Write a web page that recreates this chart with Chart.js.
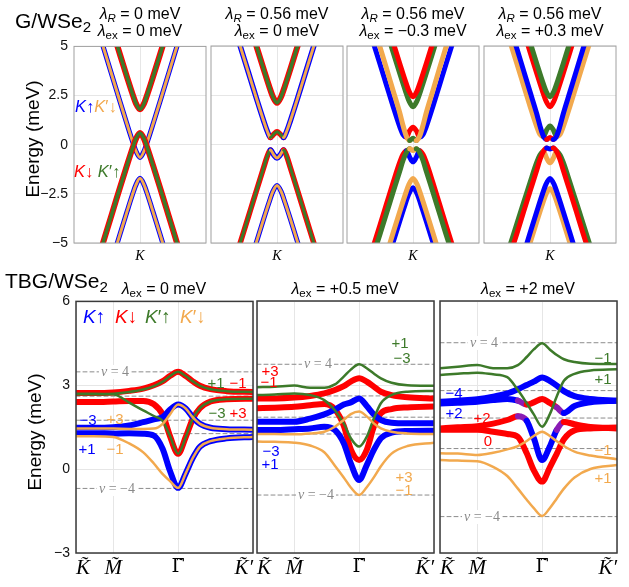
<!DOCTYPE html>
<html>
<head>
<script src="https://cdn.jsdelivr.net/npm/chart.js"></script>
<style>
  body { margin: 0; background: #fff; }
  #fig { position: relative; width: 629px; height: 587px; overflow: hidden; font-family: "Liberation Sans", Arial, sans-serif; color: #000; }
  #plots, #labels { position: absolute; left: 0; top: 0; width: 629px; height: 587px; }
  #plots { z-index: 1; }
  #labels { z-index: 2; }
  #plots canvas { position: absolute; }
  .t { position: absolute; transform: translate(-50%, -50%); white-space: nowrap; line-height: 1; }
  .l { position: absolute; transform: translateY(-50%); white-space: nowrap; line-height: 1; }
  .r { position: absolute; transform: translate(-50%, -50%) rotate(-90deg); white-space: nowrap; line-height: 1; font-size: 19px; }
  sub { font-size: 0.72em; vertical-align: -0.28em; line-height: 0; }
  .nu { position: absolute; transform: translate(-50%, -50%); font-family: "Liberation Serif", serif; font-size: 14px; color: #8a8a8a; background: #fff; padding: 0 2px; line-height: 1; white-space: nowrap; }
  .c { position: absolute; transform: translate(-50%, -50%); font-size: 15px; line-height: 1; white-space: nowrap; }
  .b { color: #0000ff; } .rd { color: #ff0000; } .g { color: #3d7a2a; } .o { color: #f2a94e; }
</style>
</head>
<body>
<div id="fig">
  <div id="plots"></div>
  <div id="labels">
    <div class="l" style="left:15px;top:20px;font-size:21px">G/WSe<sub>2</sub></div>
    <div class="t" style="left:140px;top:14px;font-size:16px"><i>λ</i><sub><i>R</i></sub> = 0 meV</div>
    <div class="t" style="left:140px;top:31px;font-size:16px"><i>λ</i><sub>ex</sub> = 0 meV</div>
    <div class="t" style="left:277px;top:14px;font-size:16px"><i>λ</i><sub><i>R</i></sub> = 0.56 meV</div>
    <div class="t" style="left:277px;top:31px;font-size:16px"><i>λ</i><sub>ex</sub> = 0 meV</div>
    <div class="t" style="left:413px;top:14px;font-size:16px"><i>λ</i><sub><i>R</i></sub> = 0.56 meV</div>
    <div class="t" style="left:413px;top:31px;font-size:16px"><i>λ</i><sub>ex</sub> = −0.3 meV</div>
    <div class="t" style="left:550px;top:14px;font-size:16px"><i>λ</i><sub><i>R</i></sub> = 0.56 meV</div>
    <div class="t" style="left:550px;top:31px;font-size:16px"><i>λ</i><sub>ex</sub> = +0.3 meV</div>
    <div class="r" style="left:32px;top:139px">Energy (meV)</div>
    <div class="l" style="left:75px;top:106px;font-size:16.5px"><span class="b"><i>K</i>↑</span><span class="o"><i>K</i>′↓</span></div>
    <div class="l" style="left:74px;top:171px;font-size:16.5px"><span class="rd"><i>K</i>↓</span> <span class="g"><i>K</i>′↑</span></div>

    <div class="l" style="left:5px;top:280px;font-size:21px">TBG/WSe<sub>2</sub></div>
    <div class="t" style="left:164px;top:289px;font-size:16px"><i>λ</i><sub>ex</sub> = 0 meV</div>
    <div class="t" style="left:345px;top:289px;font-size:16px"><i>λ</i><sub>ex</sub> = +0.5 meV</div>
    <div class="t" style="left:528px;top:289px;font-size:16px"><i>λ</i><sub>ex</sub> = +2 meV</div>
    <div class="r" style="left:34px;top:432px">Energy (meV)</div>
    <div class="l b" style="left:83px;top:316px;font-size:19px"><i>K</i>↑</div>
    <div class="l rd" style="left:115px;top:316px;font-size:19px"><i>K</i>↓</div>
    <div class="l g" style="left:145px;top:316px;font-size:19px"><i>K</i>′↑</div>
    <div class="l o" style="left:180px;top:316px;font-size:19px"><i>K</i>′↓</div>

    <div class="c b" style="left:88px;top:419px">−3</div>
    <div class="c o" style="left:115px;top:418px">+3</div>
    <div class="c b" style="left:87px;top:448px">+1</div>
    <div class="c o" style="left:115px;top:448px">−1</div>
    <div class="c g" style="left:216px;top:382px">+1</div>
    <div class="c rd" style="left:238px;top:382px">−1</div>
    <div class="c g" style="left:217px;top:412px">−3</div>
    <div class="c rd" style="left:238px;top:412px">+3</div>

    <div class="c rd" style="left:270px;top:370px">+3</div>
    <div class="c rd" style="left:269px;top:381px">−1</div>
    <div class="c g" style="left:400px;top:342px">+1</div>
    <div class="c g" style="left:402px;top:357px">−3</div>
    <div class="c b" style="left:271px;top:450px">−3</div>
    <div class="c b" style="left:270px;top:463px">+1</div>
    <div class="c o" style="left:404px;top:476px">+3</div>
    <div class="c o" style="left:404px;top:489px">−1</div>

    <div class="c g" style="left:603px;top:357px">−1</div>
    <div class="c g" style="left:603px;top:378px">+1</div>
    <div class="c b" style="left:454px;top:392px">−4</div>
    <div class="c b" style="left:454px;top:412px">+2</div>
    <div class="c rd" style="left:482px;top:417px">+2</div>
    <div class="c rd" style="left:488px;top:440px">0</div>
    <div class="c o" style="left:603px;top:449px">−1</div>
    <div class="c o" style="left:603px;top:477px">+1</div>

    <div class="nu" style="left:115px;top:372px"><i>ν</i> = 4</div>
    <div class="nu" style="left:117px;top:489px"><i>ν</i> = −4</div>
    <div class="nu" style="left:318px;top:364px"><i>ν</i> = 4</div>
    <div class="nu" style="left:316px;top:495px"><i>ν</i> = −4</div>
    <div class="nu" style="left:484px;top:343px"><i>ν</i> = 4</div>
    <div class="nu" style="left:482px;top:517px"><i>ν</i> = −4</div>
  </div>
</div>
<script>
  const BLUE = "#0000ff", RED = "#ff0000", GREEN = "#3d7a2a", ORANGE = "#f2a94e", PURPLE = "#8a1cb4";

  // ---------- top row: G/WSe2, momentum measured from K ----------
  const kTop = [-0.6, -0.5, -0.4, -0.3, -0.2, -0.12, -0.06, 0, 0.06, 0.12, 0.2, 0.3, 0.4, 0.5, 0.6];
  const kFine = [-0.6, -0.5, -0.4, -0.3, -0.2, -0.15, -0.1, -0.05, 0, 0.05, 0.1, 0.15, 0.2, 0.3, 0.4, 0.5, 0.6];
  const topYTicks = [-5, -2.5, 0, 2.5, 5];
  const topXTicks = [0];
  const topXLabels = ["K"];

  // lambda_R = 0, lambda_ex = 0
  const g1BlueOrangeUp = [5.44, 4.35, 3.25, 2.16, 1.08, 0.24, -0.33, -0.65, -0.33, 0.24, 1.08, 2.16, 3.25, 4.35, 5.44];
  const g1BlueOrangeDn = [-7.8, -6.71, -5.61, -4.52, -3.44, -2.6, -2.03, -1.71, -2.03, -2.6, -3.44, -4.52, -5.61, -6.71, -7.8];
  const g1RedGreenUp = [7.83, 6.73, 5.64, 4.55, 3.48, 2.65, 2.09, 1.8, 2.09, 2.65, 3.48, 4.55, 5.64, 6.73, 7.83];
  const g1RedGreenDn = [-5.43, -4.33, -3.24, -2.15, -1.08, -0.25, 0.31, 0.6, 0.31, -0.25, -1.08, -2.15, -3.24, -4.33, -5.43];

  // lambda_R = 0.56, lambda_ex = 0
  const g2RedGreenUp = [8.15, 7.05, 5.96, 4.87, 3.8, 2.97, 2.41, 2.12, 2.41, 2.97, 3.8, 4.87, 5.96, 7.05, 8.15];
  const g2BlueOrangeDn = [-8.11, -7.01, -5.92, -4.83, -3.76, -2.93, -2.37, -2.08, -2.37, -2.93, -3.76, -4.83, -5.92, -7.01, -8.11];
  const g2MidUp = [5.45, 4.38, 3.3, 2.22, 1.18, 0.7, 0.36, 0.52, 0.65, 0.52, 0.36, 0.7, 1.18, 2.22, 3.3, 4.38, 5.45];
  const g2MidDn = [-5.45, -4.38, -3.3, -2.22, -1.15, -0.62, -0.28, -0.52, -0.69, -0.52, -0.28, -0.62, -1.15, -2.22, -3.3, -4.38, -5.45];

  // lambda_R = 0.56, lambda_ex = -0.3
  const g3RedUp = [8.45, 7.35, 6.26, 5.17, 4.1, 3.27, 2.71, 2.42, 2.71, 3.27, 4.1, 5.17, 6.26, 7.35, 8.45];
  const g3GreenUp = [7.95, 6.85, 5.76, 4.67, 3.6, 2.77, 2.21, 1.92, 2.21, 2.77, 3.6, 4.67, 5.76, 6.85, 7.95];
  const g3KMidUp = [5.15, 4.08, 3.0, 1.92, 0.9, 0.5, 0.38, 0.7, 0.88, 0.7, 0.38, 0.5, 0.9, 1.92, 3.0, 4.08, 5.15];
  const g3KpMidUp = [6.0, 4.95, 3.85, 2.72, 1.6, 0.95, 0.42, 0.2, 0.32, 0.2, 0.42, 0.95, 1.6, 2.72, 3.85, 4.95, 6.0];
  const g3KMidDn = [-5.15, -4.08, -3.0, -1.92, -0.9, -0.5, -0.32, -0.65, -0.88, -0.65, -0.32, -0.5, -0.9, -1.92, -3.0, -4.08, -5.15];
  const g3KpMidDn = [-5.6, -4.55, -3.48, -2.4, -1.35, -0.8, -0.4, -0.22, -0.3, -0.22, -0.4, -0.8, -1.35, -2.4, -3.48, -4.55, -5.6];
  const g3OrangeDn = [-7.75, -6.65, -5.56, -4.47, -3.4, -2.57, -2.01, -1.72, -2.01, -2.57, -3.4, -4.47, -5.56, -6.65, -7.75];
  const g3BlueDn = [-8.23, -7.13, -6.04, -4.95, -3.88, -3.05, -2.49, -2.2, -2.49, -3.05, -3.88, -4.95, -6.04, -7.13, -8.23];

  // lambda_R = 0.56, lambda_ex = +0.3
  const g4GreenUp = [8.45, 7.35, 6.26, 5.17, 4.1, 3.27, 2.71, 2.42, 2.71, 3.27, 4.1, 5.17, 6.26, 7.35, 8.45];
  const g4RedUp = [7.95, 6.85, 5.76, 4.67, 3.6, 2.77, 2.21, 1.92, 2.21, 2.77, 3.6, 4.67, 5.76, 6.85, 7.95];
  const g4KpMidUp = [5.15, 4.08, 3.0, 1.92, 0.9, 0.5, 0.4, 0.74, 0.94, 0.74, 0.4, 0.5, 0.9, 1.92, 3.0, 4.08, 5.15];
  const g4KMidUp = [5.9, 4.85, 3.75, 2.65, 1.55, 0.92, 0.42, 0.26, 0.36, 0.26, 0.42, 0.92, 1.55, 2.65, 3.75, 4.85, 5.9];
  const g4KpMidDn = [-5.05, -4.0, -2.95, -1.9, -0.9, -0.52, -0.34, -0.7, -0.93, -0.7, -0.34, -0.52, -0.9, -1.9, -2.95, -4.0, -5.05];
  const g4KMidDn = [-5.55, -4.5, -3.42, -2.35, -1.3, -0.75, -0.35, -0.18, -0.23, -0.18, -0.35, -0.75, -1.3, -2.35, -3.42, -4.5, -5.55];
  const g4BlueDn = [-7.75, -6.65, -5.56, -4.47, -3.4, -2.57, -2.01, -1.72, -2.01, -2.57, -3.4, -4.47, -5.56, -6.65, -7.75];
  const g4OrangeDn = [-8.26, -7.16, -6.07, -4.98, -3.91, -3.08, -2.52, -2.23, -2.52, -3.08, -3.91, -4.98, -6.07, -7.16, -8.26];

  // ---------- bottom row: TBG/WSe2 along K~ - M~ - Gamma~ - K~' ----------
  const xPath = [0, 0.1, 0.211, 0.3, 0.38, 0.44, 0.49, 0.53, 0.577, 0.62, 0.66, 0.7, 0.76, 0.85, 1];
  const pathTicks = [0, 0.211, 0.577, 1];
  const pathLabels = ["K\u0303", "M\u0303", "\u0393\u0303", "K\u0303\u2032"];
  const botYTicks = [-3, 0, 3, 6];

  // lambda_ex = 0
  const t1RedUp = [2.72, 2.72, 2.74, 2.8, 2.88, 3.0, 3.15, 3.33, 3.48, 3.33, 3.14, 2.98, 2.86, 2.79, 2.76];
  const t1GreenUp = [2.68, 2.68, 2.7, 2.76, 2.85, 2.97, 3.13, 3.32, 3.48, 3.33, 3.14, 2.98, 2.86, 2.79, 2.76];
  const t1RedDn = [2.4, 2.4, 2.42, 2.44, 2.44, 2.32, 1.95, 1.2, 0.55, 1.15, 1.8, 2.18, 2.42, 2.5, 2.52];
  const t1GreenDn = [2.7, 2.7, 2.68, 2.38, 2.1, 1.9, 1.72, 1.2, 0.55, 1.15, 1.8, 2.18, 2.42, 2.5, 2.52];
  const t1BlueUp = [1.48, 1.48, 1.5, 1.56, 1.68, 1.78, 1.86, 2.12, 2.31, 2.17, 1.85, 1.62, 1.48, 1.43, 1.41];
  const t1OrangeUp = [1.45, 1.45, 1.45, 1.44, 1.44, 1.45, 1.62, 1.95, 2.31, 2.17, 1.85, 1.62, 1.48, 1.43, 1.41];
  const t1BlueDn = [1.26, 1.26, 1.27, 1.28, 1.27, 1.2, 0.72, -0.05, -0.67, -0.15, 0.4, 0.8, 1.0, 1.1, 1.15];
  const t1OrangeDn = [1.18, 1.18, 1.15, 0.92, 0.6, 0.2, -0.18, -0.42, -0.67, -0.15, 0.4, 0.8, 1.0, 1.1, 1.15];
  const t1Filling = [3.48, 2.61, 1.75, 1.27, -0.69];

  // lambda_ex = +0.5
  const t2GreenUp = [2.92, 2.94, 2.98, 2.9, 2.9, 3.02, 3.3, 3.55, 3.74, 3.6, 3.41, 3.24, 3.08, 2.99, 2.97];
  const t2GreenDn = [2.64, 2.66, 2.7, 2.64, 2.46, 2.1, 1.63, 1.1, 0.8, 1.15, 1.8, 2.35, 2.64, 2.76, 2.79];
  const t2RedUp = [2.52, 2.52, 2.55, 2.61, 2.7, 2.82, 2.96, 3.12, 3.24, 3.12, 2.94, 2.76, 2.64, 2.56, 2.52];
  const t2RedDn = [2.17, 2.19, 2.22, 2.28, 2.32, 2.13, 1.55, 0.7, 0.32, 0.68, 1.51, 1.99, 2.14, 2.2, 2.23];
  const t2BlueUp = [1.69, 1.69, 1.69, 1.8, 1.95, 2.12, 2.3, 2.38, 2.52, 2.25, 1.95, 1.75, 1.65, 1.63, 1.63];
  const t2BlueDn = [1.39, 1.39, 1.42, 1.45, 1.51, 1.39, 0.92, 0.2, -0.39, 0.14, 0.68, 1.1, 1.3, 1.36, 1.37];
  const t2OrangeUp = [1.25, 1.25, 1.24, 1.27, 1.33, 1.51, 1.75, 1.96, 2.05, 1.88, 1.63, 1.45, 1.33, 1.27, 1.25];
  const t2OrangeDn = [0.98, 0.97, 0.94, 0.84, 0.6, 0.12, -0.3, -0.66, -0.93, -0.65, -0.3, 0.1, 0.55, 0.82, 0.94];
  const t2Filling = [3.74, 2.61, 1.85, 1.25, -0.93];

  // lambda_ex = +2
  const t3GreenUp = [3.6, 3.65, 3.71, 3.6, 3.6, 3.71, 4.0, 4.27, 4.49, 4.27, 4.07, 3.92, 3.82, 3.76, 3.75];
  const t3GreenDn = [3.36, 3.4, 3.44, 3.38, 3.28, 2.82, 2.35, 1.95, 1.51, 1.95, 2.6, 3.15, 3.4, 3.52, 3.56];
  const t3KBand1 = [2.4, 2.44, 2.49, 2.58, 2.7, 2.85, 3.0, 3.12, 3.27, 3.15, 2.98, 2.78, 2.6, 2.5, 2.44];
  const t3KBand2 = [2.34, 2.37, 2.4, 2.46, 2.5, 2.44, 2.3, 2.38, 2.5, 2.36, 2.2, 2.0, 2.25, 2.38, 2.44];
  const t3KBand3 = [1.45, 1.49, 1.53, 1.62, 1.75, 1.88, 1.72, 1.1, 0.32, 0.8, 1.4, 1.68, 1.6, 1.5, 1.45];
  const t3KBand4 = [1.4, 1.4, 1.4, 1.33, 1.25, 1.15, 0.56, -0.05, -0.45, 0.05, 0.55, 1.06, 1.38, 1.45, 1.48];
  const t3OrangeUp = [0.56, 0.55, 0.5, 0.58, 0.7, 0.82, 1.0, 1.18, 1.33, 1.18, 0.99, 0.82, 0.62, 0.48, 0.35];
  const t3OrangeDn = [0.32, 0.3, 0.28, 0.08, -0.25, -0.7, -1.1, -1.4, -1.68, -1.4, -1.05, -0.7, -0.3, 0.0, 0.14];
  const t3Filling = [4.51, 2.8, 1.82, 0.73, -1.7];

  // ---------- helpers ----------
  function line(xs, ys, color, width, dash) {
    return {
      data: xs.map((x, i) => ({ x: x, y: ys[i] })),
      borderColor: color,
      borderWidth: width,
      borderDash: dash || [],
      clip: 0,
    };
  }

  // arms in one colour, the part near k = 0 in another
  function twoTone(xs, ys, armColor, coreColor, thr, width) {
    const d = line(xs, ys, armColor, width);
    d.segment = {
      borderColor: (c) => (Math.abs((c.p0.parsed.x + c.p1.parsed.x) / 2) < thr ? coreColor : armColor),
    };
    return d;
  }

  // colour changes along the path: stops = [[xEnd, colour], ...]
  function pathColored(xs, ys, stops, width) {
    const d = line(xs, ys, stops[0][1], width);
    d.segment = {
      borderColor: (c) => {
        const m = (c.p0.parsed.x + c.p1.parsed.x) / 2;
        for (const s of stops) if (m < s[0]) return s[1];
        return stops[stops.length - 1][1];
      },
    };
    return d;
  }

  function levels(vals) {
    return vals.map((v) => line([0, 1], [v, v], "#8c8c8c", 1, [4, 3]));
  }

  const framePlugin = {
    id: "frame",
    afterDatasetsDraw(chart, args, opts) {
      const a = chart.chartArea, c = chart.ctx;
      c.save();
      c.strokeStyle = opts.color;
      c.lineWidth = opts.width;
      c.strokeRect(a.left, a.top, a.right - a.left, a.bottom - a.top);
      c.restore();
    },
  };

  const minus = (v) => (v < 0 ? "\u2212" + -v : String(v));

  function panel(box, p) {
    const L = 44, T = 14, R = 14, B = 34;
    const cv = document.createElement("canvas");
    cv.width = box[2] - box[0] + L + R;
    cv.height = box[3] - box[1] + T + B;
    cv.style.left = box[0] - L + "px";
    cv.style.top = box[1] - T + "px";
    document.getElementById("plots").appendChild(cv);

    // first in list is painted first (bottom)
    const sets = p.sets.map((d, i, a) => Object.assign(d, { order: a.length - i }));

    new Chart(cv, {
      type: "line",
      data: { datasets: sets },
      plugins: [framePlugin],
      options: {
        responsive: false,
        animation: false,
        events: [],
        layout: { padding: { top: T, right: R, left: 0, bottom: 0 } },
        elements: {
          point: { radius: 0 },
          line: { cubicInterpolationMode: "monotone", borderCapStyle: "round", borderJoinStyle: "round", fill: false },
        },
        plugins: {
          legend: { display: false },
          tooltip: { enabled: false },
          frame: { color: p.frame, width: p.frameWidth },
        },
        scales: {
          x: {
            type: "linear",
            min: p.xr[0],
            max: p.xr[1],
            afterFit: (s) => { s.height = B; },
            afterBuildTicks: (s) => { s.ticks = p.xTicks.map((v) => ({ value: v })); },
            grid: { color: "#e6e6e6", drawTicks: false },
            border: { display: false },
            ticks: {
              autoSkip: false,
              maxRotation: 0,
              align: p.xAlign,
              padding: p.xPad,
              color: "#000",
              font: (ctx) => {
                const lab = ctx.tick ? p.xLabels[p.xTicks.indexOf(ctx.tick.value)] : "";
                const upright = lab === "\u0393\u0303";
                return {
                  family: upright ? "'DejaVu Serif', serif" : "'Liberation Serif', 'DejaVu Serif', serif",
                  size: upright ? p.xSize - 2 : p.xSize,
                  style: upright ? "normal" : "italic",
                };
              },
              callback: (v, i) => p.xLabels[i],
            },
          },
          y: {
            min: p.yr[0],
            max: p.yr[1],
            afterFit: (s) => { s.width = L; },
            afterBuildTicks: (s) => { s.ticks = p.yTicks.map((v) => ({ value: v })); },
            grid: { color: "#e6e6e6", drawTicks: false },
            border: { display: false },
            ticks: {
              display: p.showY,
              padding: 6,
              color: "#111",
              font: { family: "'Liberation Sans', Arial, sans-serif", size: 14 },
              callback: (v) => minus(v),
            },
          },
        },
      },
    });
  }

  const topCommon = { xr: [-1, 1], yr: [-5, 5], xTicks: topXTicks, xLabels: topXLabels, yTicks: topYTicks, xSize: 14, xPad: 5, xAlign: "center", frame: "#a0a0a0", frameWidth: 1 };
  const botCommon = { xr: [0, 1], yr: [-3, 6], xTicks: pathTicks, xLabels: pathLabels, yTicks: botYTicks, xSize: 21, xPad: 3, xAlign: "inner", frame: "#3a3a3a", frameWidth: 1.5 };

  // G/WSe2, lambda_R = 0, lambda_ex = 0
  panel([74, 46, 206, 243], Object.assign({}, topCommon, {
    showY: true,
    sets: [
      line(kTop, g1BlueOrangeUp, BLUE, 5), line(kTop, g1BlueOrangeUp, ORANGE, 3),
      line(kTop, g1BlueOrangeDn, BLUE, 5), line(kTop, g1BlueOrangeDn, ORANGE, 3),
      line(kTop, g1RedGreenUp, RED, 6), line(kTop, g1RedGreenUp, GREEN, 3.5),
      line(kTop, g1RedGreenDn, RED, 6), line(kTop, g1RedGreenDn, GREEN, 3.5),
    ],
  }));

  // lambda_R = 0.56, lambda_ex = 0
  panel([211, 46, 343, 243], Object.assign({}, topCommon, {
    showY: false,
    sets: [
      line(kTop, g2BlueOrangeDn, BLUE, 5), line(kTop, g2BlueOrangeDn, ORANGE, 3),
      twoTone(kFine, g2MidUp, BLUE, RED, 0.1, 5.5), twoTone(kFine, g2MidUp, ORANGE, GREEN, 0.1, 3),
      twoTone(kFine, g2MidDn, RED, BLUE, 0.1, 5.5), twoTone(kFine, g2MidDn, GREEN, ORANGE, 0.1, 3),
      line(kTop, g2RedGreenUp, RED, 6), line(kTop, g2RedGreenUp, GREEN, 3.5),
    ],
  }));

  // lambda_R = 0.56, lambda_ex = -0.3
  panel([347, 46, 479, 243], Object.assign({}, topCommon, {
    showY: false,
    sets: [
      line(kTop, g3BlueDn, BLUE, 5),
      line(kTop, g3OrangeDn, ORANGE, 5),
      twoTone(kFine, g3KMidUp, BLUE, RED, 0.1, 5),
      twoTone(kFine, g3KpMidUp, ORANGE, GREEN, 0.05, 5),
      twoTone(kFine, g3KMidDn, RED, BLUE, 0.1, 5),
      twoTone(kFine, g3KpMidDn, GREEN, ORANGE, 0.05, 5),
      line(kTop, g3GreenUp, GREEN, 5),
      line(kTop, g3RedUp, RED, 5),
    ],
  }));

  // lambda_R = 0.56, lambda_ex = +0.3
  panel([484, 46, 616, 243], Object.assign({}, topCommon, {
    showY: false,
    sets: [
      line(kTop, g4OrangeDn, ORANGE, 5),
      line(kTop, g4BlueDn, BLUE, 5),
      twoTone(kFine, g4KpMidUp, ORANGE, GREEN, 0.1, 5),
      twoTone(kFine, g4KMidUp, BLUE, RED, 0.05, 5),
      twoTone(kFine, g4KpMidDn, GREEN, ORANGE, 0.1, 5),
      twoTone(kFine, g4KMidDn, RED, BLUE, 0.05, 5),
      line(kTop, g4RedUp, RED, 5),
      line(kTop, g4GreenUp, GREEN, 5),
    ],
  }));

  // TBG/WSe2, lambda_ex = 0
  panel([76, 301, 253, 553], Object.assign({}, botCommon, {
    showY: true,
    sets: levels(t1Filling).concat([
      line(xPath, t1RedUp, RED, 6), line(xPath, t1RedDn, RED, 6),
      line(xPath, t1BlueUp, BLUE, 6), line(xPath, t1BlueDn, BLUE, 6),
      line(xPath, t1GreenUp, GREEN, 2.5), line(xPath, t1GreenDn, GREEN, 2.5),
      line(xPath, t1OrangeUp, ORANGE, 2.5), line(xPath, t1OrangeDn, ORANGE, 2.5),
    ]),
  }));

  // lambda_ex = +0.5
  panel([257, 301, 434, 553], Object.assign({}, botCommon, {
    showY: false,
    sets: levels(t2Filling).concat([
      line(xPath, t2RedUp, RED, 6), line(xPath, t2RedDn, RED, 6),
      line(xPath, t2BlueUp, BLUE, 6), line(xPath, t2BlueDn, BLUE, 6),
      line(xPath, t2GreenUp, GREEN, 2.5), line(xPath, t2GreenDn, GREEN, 2.5),
      line(xPath, t2OrangeUp, ORANGE, 2.5), line(xPath, t2OrangeDn, ORANGE, 2.5),
    ]),
  }));

  // lambda_ex = +2
  panel([440, 301, 617, 553], Object.assign({}, botCommon, {
    showY: false,
    sets: levels(t3Filling).concat([
      line(xPath, t3KBand4, RED, 6),
      pathColored(xPath, t3KBand3, [[0.44, RED], [0.49, PURPLE], [0.66, BLUE], [0.7, PURPLE], [2, RED]], 6),
      pathColored(xPath, t3KBand2, [[0.44, BLUE], [0.49, PURPLE], [0.66, RED], [0.7, PURPLE], [2, BLUE]], 6),
      line(xPath, t3KBand1, BLUE, 6),
      line(xPath, t3GreenUp, GREEN, 2.5), line(xPath, t3GreenDn, GREEN, 2.5),
      line(xPath, t3OrangeUp, ORANGE, 2.5), line(xPath, t3OrangeDn, ORANGE, 2.5),
    ]),
  }));
</script>
</body>
</html>
